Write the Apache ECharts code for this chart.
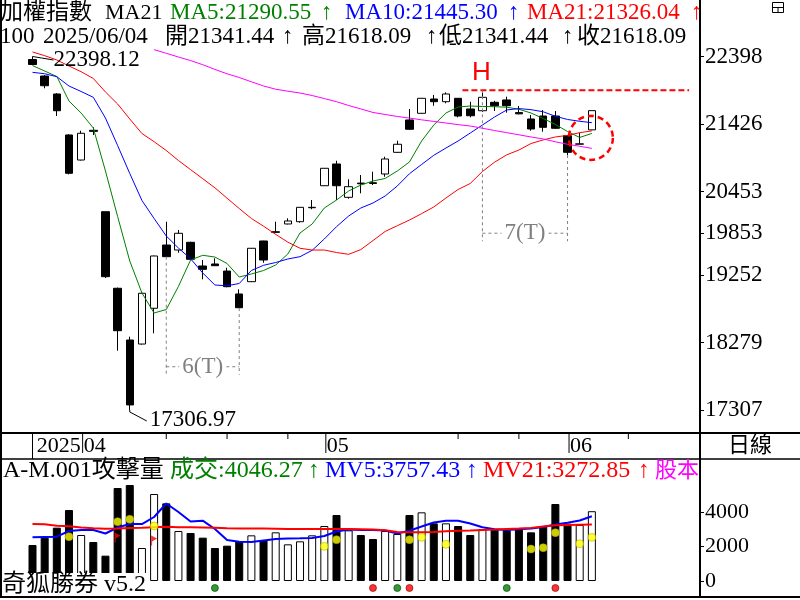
<!DOCTYPE html>
<html><head><meta charset="utf-8">
<script src="https://cdn.jsdelivr.net/npm/echarts@6/dist/echarts.min.js"></script>
<style>html,body{margin:0;padding:0;background:#fff}#c{width:800px;height:600px}</style>
</head><body><div id="c"></div>
<script>
// ---------------- data ----------------
const leadDates = ['2025/03/24','2025/03/25'];
const dates = ['2025/03/26','2025/03/27','2025/03/28','2025/03/31','2025/04/01','2025/04/02','2025/04/07','2025/04/08','2025/04/09','2025/04/10','2025/04/11','2025/04/14','2025/04/15','2025/04/16','2025/04/17','2025/04/18','2025/04/21','2025/04/22','2025/04/23','2025/04/24','2025/04/25','2025/04/28','2025/04/29','2025/04/30','2025/05/02','2025/05/05','2025/05/06','2025/05/07','2025/05/08','2025/05/09','2025/05/12','2025/05/13','2025/05/14','2025/05/15','2025/05/16','2025/05/19','2025/05/20','2025/05/21','2025/05/22','2025/05/23','2025/05/26','2025/05/27','2025/05/28','2025/05/29','2025/06/02','2025/06/03','2025/06/04'];
const futureDates = ['2025/06/05','2025/06/06','2025/06/09','2025/06/10','2025/06/11','2025/06/12','2025/06/13','2025/06/16'];

const opens  = [22355,22117,21858,21268,20907,21335,20163,19060,18315,18257,18772,19683,19611,19722,19381,19410,19308,18978,19155,19741,19865,19986,20019,20220,20537,20850,20370,20575,20580,20706,21018,21484,21580,21786,21747,21796,21642,21617,21738,21772,21590,21498,21541,21541,21257,21135,21341.44];
const highs  = [22398.12,22130,21870,21280,21329,21378,20163,19070,18363,19000,19530,20019,19900,19730,19467,19492,19356,19045,19640,19745,20019,20068,20230,20331,20790,20897,20630,20691,20739,20955,21185,21642,21800,21844,21882,21800,21747,21912,21760,21819,21685,21556,21628,21613,21265,21300,21618.09];
const lows   = [22275,21940,21541,20700,20900,21267,19208,18161,17306.97,18250,18411,19510,19572,19470,19189,19380,19074,18775,19150,19428,19860,19980,20005,20198,20535,20331,20350,20428,20547,20667,21010,21340,21575,21689,21724,21522,21522,21600,21613,21589,21565,21329,21315,21355,20979,21135,21341.44];
const closes = [22283,21977,21617,20716,21292,21320,19227,18449,17380,18988,19525,19515,19852,19477,19333,19385,19083,18780,19636,19467,19875,20029,20226,20226,20788,20537,20523,20565,20570,20922,21134,21350,21796,21747,21858,21541,21545,21810,21689,21689,21572,21354,21378,21364,21018,21140,21618.09];

const ma5  = [22268,22189,22110,21757,21584,21368,20749,20094,19453,18992,18704,18754,19086,19467,19535,19510,19417,19222,19266,19316,19395,19554,19856,19986,20216,20331,20461,20547,20605,20641,20749,20879,21181,21411,21584,21671,21685,21678,21675,21668,21638,21584,21505,21419,21318,21232,21290.55];
const ma10 = [22170,22150,22107,21973,21894,21810,21512,21116,20713,20324,20065,19813,19640,19485,19280,19107,19096,19129,19316,19391,19431,19482,19515,19607,19770,19947,20101,20216,20288,20389,20533,20710,20843,20975,21080,21181,21296,21411,21527,21628,21648,21632,21602,21537,21491,21465,21445.30];
const ma21 = [22463,22410,22348,22261,22179,22081,21887,21714,21498,21289,21171,21044,20900,20769,20638,20507,20357,20209,20065,19954,19836,19724,19636,19611,19611,19575,19549,19617,19747,19878,19961,20043,20135,20231,20360,20483,20569,20742,20876,20982,21051,21145,21197,21239,21262,21301,21326.04];
const maLong = ['-','-','-','-','-','-','-','-','-','-',22497,22444,22391,22339,22280,22212,22149,22096,22034,21973,21927,21898,21872,21836,21792,21747,21692,21643,21592,21563,21534,21511,21486,21463,21440,21417,21397,21365,21332,21301,21270,21239,21210,21170,21134,21105,21075];

const volumes = [2087,2512,3092,4116,2667,2261,1469,5391,5565,1913,5043,4502,2899,2783,2512,1913,2048,2300,2647,2357,2821,2126,2300,2647,3188,3826,2937,2667,2435,2899,2725,3826,3981,3343,3343,3188,2667,3014,3014,2937,3014,2821,3150,4464,3324,3246,4046.27];
const mv5  = [2533,2551,2568,2899,2957,2957,2754,3101,3304,3304,3710,4493,4000,3449,3496,3014,2377,2278,2261,2348,2435,2464,2475,2493,2609,2870,2986,2957,2957,2928,2754,2916,3159,3391,3496,3496,3333,3113,2997,2957,2997,3043,3130,3275,3374,3507,3757.43];
const mv21 = [3304,3290,3210,3180,3100,3060,3030,3040,3070,3090,3120,3140,3120,3110,3100,3080,3060,3050,3045,3040,3030,3020,3020,3020,3020,3010,3010,3000,2990,2940,2840,2830,2830,2840,2880,2920,2930,2960,2980,3010,3040,3080,3160,3230,3250,3265,3272.85];

const attackIdx = [3,7,8,10,24,25,31,32,34,41,42,43,45,46];
const attackVal = [2570,3440,3575,3188,2010,2396,2396,2531,2126,1855,1932,2802,2164,2531];
const flagIdx = [7,10];
const flagVal = [2522,2348];
const greenSignalIdx = [15,30,39];
const redSignalIdx = [28,31,43];

const priceTicks = [22398,21426,20453,19853,19252,18279,17307];
const volTicks = [0,2000,4000];
const monthTickDates = ['2025/04/01','2025/05/02','2025/06/02'];
const monthTickLabels = ['04','05','06'];
const weekTickDates = ['2025/04/14','2025/04/21','2025/04/28','2025/05/19','2025/05/26','2025/06/09'];
const yearLabel = '2025';

// --------------- build ---------------
const SERIF = "'Liberation Serif','Noto Sans CJK TC',serif";
const N_LEAD = leadDates.length, N_TAIL = futureDates.length;
const cats = leadDates.concat(dates, futureDates);
const pad = a => Array(N_LEAD).fill('-').concat(a, Array(N_TAIL).fill('-'));
const slot = i => i + N_LEAD;

const candleData = pad(dates.map((d, i) => [opens[i], closes[i], lows[i], highs[i]]));
const volData = pad(volumes.map((v, i) => ({
  value: v,
  itemStyle: closes[i] >= opens[i] ? {color:'#fff', borderColor:'#000', borderWidth:1} : {color:'#000', borderColor:'#000', borderWidth:1}
})));
const SIGNAL_LEVEL = -406;

const chart = echarts.init(document.getElementById('c'), null, {renderer:'canvas'});
const GL = 2.1, GW = 693.12;
const mainGrid = {left: GL, top: 2, width: GW, height: 430};
const volGrid = {left: GL, top: 461, width: GW, height: 137};

const lineS = (name, data, color, w, xi) => ({
  type:'line', name, data: pad(data), xAxisIndex: xi, yAxisIndex: xi,
  symbol:'none', lineStyle:{color, width:w}, itemStyle:{color}, z: 3, silent:true
});
const plain = v => String(v);

chart.setOption({
  animation: false,
  backgroundColor: '#fff',
  grid: [mainGrid, volGrid],
  xAxis: [
    {type:'category', gridIndex:0, data:cats, boundaryGap:true, show:false},
    {type:'category', gridIndex:1, data:cats, boundaryGap:true, show:false}
  ],
  yAxis: [
    {type:'value', gridIndex:0, position:'right', offset: 700 - (GL + GW),
     min: 16990.1, max: 23182.9, splitLine:{show:false}, axisLine:{show:false},
     axisTick:{show:true, length:4, customValues: priceTicks, lineStyle:{color:'#000'}},
     axisLabel:{customValues: priceTicks, formatter: plain, margin:5, fontSize:23, fontFamily:SERIF, color:'#000'}},
    {type:'value', gridIndex:1, position:'right', offset: 700 - (GL + GW),
     min: -985.5, max: 6957, splitLine:{show:false}, axisLine:{show:false},
     axisTick:{show:true, length:4, customValues: volTicks, lineStyle:{color:'#000'}},
     axisLabel:{customValues: volTicks, formatter: plain, margin:5, fontSize:22, fontFamily:SERIF, color:'#000'}}
  ],
  series: [
    {type:'candlestick', xAxisIndex:0, yAxisIndex:0, data: candleData, barWidth: 8, silent:true,
     itemStyle:{color:'#fff', color0:'#000', borderColor:'#000', borderColor0:'#000', borderColorDoji:'#000', borderWidth:1}},
    lineS('MA5', ma5, '#008000', 1, 0),
    lineS('MA10', ma10, '#0000ff', 1, 0),
    lineS('MA21', ma21, '#ff0000', 1, 0),
    lineS('MAL', maLong, '#ff00ff', 1, 0),
    {type:'bar', xAxisIndex:1, yAxisIndex:1, data: volData, barWidth: 8, silent:true},
    lineS('MV5', mv5, '#0000ff', 2, 1),
    lineS('MV21', mv21, '#ff0000', 2, 1),
    {type:'scatter', xAxisIndex:1, yAxisIndex:1, symbolSize:8, z:5, silent:true,
     itemStyle:{color:'#ffff00', borderColor:'#a0a000', borderWidth:0.6},
     data: attackIdx.map((i, k) => [slot(i), attackVal[k]])},
    {type:'scatter', xAxisIndex:1, yAxisIndex:1, z:5, silent:true,
     symbol:'path://M0 0 L6 3 L1 6 L1 10 L0 10 Z', symbolSize:[6,10],
     itemStyle:{color:'#ff0000'},
     data: flagIdx.map((i, k) => [slot(i), flagVal[k]])},
    {type:'scatter', xAxisIndex:1, yAxisIndex:1, symbolSize:7, z:5, silent:true,
     itemStyle:{color:'#008000', borderColor:'#004000', borderWidth:0.8},
     data: greenSignalIdx.map(i => [slot(i), SIGNAL_LEVEL])},
    {type:'scatter', xAxisIndex:1, yAxisIndex:1, symbolSize:7, z:5, silent:true,
     itemStyle:{color:'#ff0000', borderColor:'#800000', borderWidth:0.8},
     data: redSignalIdx.map(i => [slot(i), SIGNAL_LEVEL])}
  ]
});

// --------------- annotations & frame ---------------
const P = (i, v) => chart.convertToPixel({gridIndex:0}, [slot(i), v]);
const Pc = (d, v) => chart.convertToPixel({gridIndex:0}, [d, v]);
const G = [];
const txt = (text, x, y, fill, size, align, extra) => G.push({type:'text', z:100, silent:true,
  style: Object.assign({text, x, y, fill, font: size + 'px ' + SERIF, align: align || 'left', verticalAlign:'middle'}, extra || {})});
const ln = (x1, y1, x2, y2, stroke, w, dash) => G.push({type:'line', z:100, silent:true,
  shape:{x1, y1, x2, y2}, style:{stroke, lineWidth:w, lineDash: dash || null}});

// frame
ln(1, 0, 1, 598, '#000', 2);
ln(700, 0, 700, 598, '#000', 2);
ln(0, 433, 800, 433, '#000', 2);
ln(0, 459, 800, 459, '#000', 1.5);
ln(0, 597, 800, 597, '#000', 2);
// small icon top-right
G.push({type:'rect', z:100, silent:true, shape:{x:772.5, y:2.5, width:11, height:10}, style:{fill:'#fff', stroke:'#000', lineWidth:1}});
ln(772.5, 7.5, 783.5, 7.5, '#000', 1);
ln(778, 7.5, 778, 12.5, '#000', 1);
txt('日線', 750, 446, '#000', 22, 'center');

// header rows (main)
const H1 = 13, H2 = 37, HF = 23;
txt('加權指數', 0, H1, '#000', HF);
txt('MA21', 105, H1, '#000', 22);
txt('MA5:21290.55', 170, H1, '#008000', HF);
txt('↑', 321, H1, '#008000', HF);
txt('MA10:21445.30', 345, H1, '#0000ff', HF);
txt('↑', 508, H1, '#0000ff', HF);
txt('MA21:21326.04', 527, H1, '#ff0000', HF);
txt('↑', 691, H1, '#ff0000', HF);
txt('100', 0, H2, '#000', HF);
txt('2025/06/04', 43, H2, '#000', HF);
txt('開21341.44', 165, H2, '#000', HF);
txt('↑', 282, H2, '#000', HF);
txt('高21618.09', 302, H2, '#000', HF);
txt('↑', 426, H2, '#000', HF);
txt('低21341.44', 439, H2, '#000', HF);
txt('↑', 562, H2, '#000', HF);
txt('收21618.09', 577, H2, '#000', HF);

// volume header
const VH = 471;
txt('A-M.001攻擊量', 3, VH, '#000', 24);
txt('成交:4046.27', 170, VH, '#008000', 24);
txt('↑', 308, VH, '#008000', 24);
txt('MV5:3757.43', 325, VH, '#0000ff', 24);
txt('↑', 466, VH, '#0000ff', 24);
txt('MV21:3272.85', 483, VH, '#ff0000', 24);
txt('↑', 638, VH, '#ff0000', 24);
txt('股本', 655, VH, '#ff00ff', 22);
G.push({type:'rect', z:99, silent:true, shape:{x:2, y:573, width:146, height:23}, style:{fill:'#fff'}});
txt('奇狐勝券 v5.2', 2, 585, '#000', 24);

// date row
const yTop = 434;
const p0 = P(0, 20000);
ln(p0[0], yTop, p0[0], 459, '#000', 1);
monthTickDates.forEach((d, k) => {
  const x = Pc(d, 20000)[0] + 1.5;
  ln(x, yTop, x, 453, '#000', 1);
  txt(monthTickLabels[k], x + 1, 446, '#000', 22, 'left');
  if (k === 0) txt(yearLabel, x - 2, 446, '#000', 22, 'right');
});
weekTickDates.forEach(d => {
  const x = Pc(d, 20000)[0];
  ln(x, yTop, x, 439, '#000', 1);
});

// high / low labels
let iH = 0, iL = 0;
highs.forEach((h, i) => { if (h > highs[iH]) iH = i; });
lows.forEach((l, i) => { if (l < lows[iL]) iL = i; });
const ph = P(iH, highs[iH]);
G.push({type:'polyline', z:100, silent:true, shape:{points:[[ph[0], ph[1]], [ph[0] + 9, ph[1] + 1.5], [ph[0] + 21, ph[1] + 3.5]]}, style:{stroke:'#000', fill:null, lineWidth:1}});
txt(highs[iH].toFixed(2), ph[0] + 21, ph[1] + 3, '#000', 23);
const pl = P(iL, lows[iL]);
G.push({type:'polyline', z:100, silent:true, shape:{points:[[pl[0], pl[1]], [pl[0], pl[1] + 2], [pl[0] + 17, pl[1] + 11]]}, style:{stroke:'#000', fill:null, lineWidth:1}});
txt(lows[iL].toFixed(2), pl[0] + 20, pl[1] + 10, '#000', 23);

// H line
const hIdx = 37;
const pH = P(hIdx, highs[hIdx]);
const pHend = Pc(cats[cats.length - 1], highs[hIdx]);
ln(pH[0] - 20, pH[1], pHend[0], pH[1], '#ff0000', 2, [6, 3]);
G.push({type:'text', z:100, silent:true, style:{text:'H', x:pH[0] - 1, y:pH[1] - 17, fill:'#ff0000', font:"26px 'Liberation Sans',sans-serif", align:'center', verticalAlign:'middle'}});

// count annotations
function countMark(a, b, yA, yB, level, label) {
  const A = P(a, level), B = P(b, level);
  const yl = A[1];
  ln(A[0], yA, A[0], yl + 8, '#808080', 1, [3, 3]);
  ln(B[0], yB, B[0], yl + 8, '#808080', 1, [3, 3]);
  ln(A[0], yl, B[0], yl, '#808080', 1, [3, 3]);
  G.push({type:'text', z:101, silent:true, style:{text:label, x:(A[0] + B[0]) / 2, y:yl, fill:'#808080',
    font:'23px ' + SERIF, align:'center', verticalAlign:'middle', backgroundColor:'#fff', padding:[0, 3]}});
}
countMark(11, 17, P(11, Math.min(opens[11], closes[11]))[1], P(17, lows[17])[1], 17930, '6(T)');
countMark(37, 44, P(37, highs[37])[1], P(44, lows[44])[1], 19853, '7(T)');

// dashed circle around last bars
const pc = P(dates.length - 1, 21226);
G.push({type:'circle', z:100, silent:true, shape:{cx: pc[0] - 1, cy: pc[1], r: 22}, style:{fill:null, stroke:'#ff0000', lineWidth:2.5, lineDash:[6, 4]}});

chart.setOption({graphic: G});
</script>
</body></html>
